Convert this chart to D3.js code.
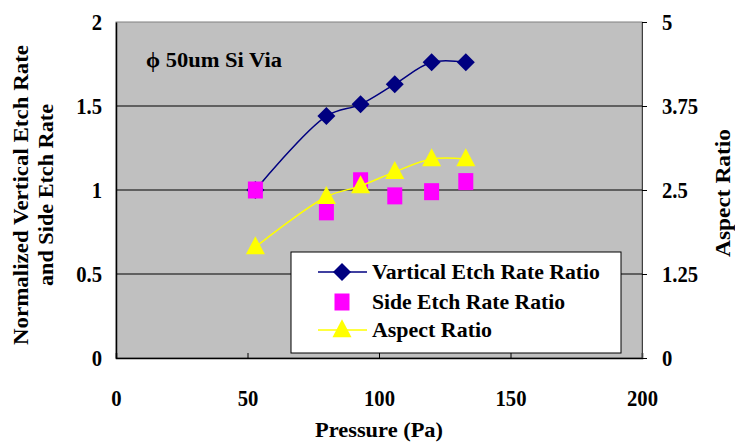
<!DOCTYPE html>
<html>
<head>
<meta charset="utf-8">
<script src="https://cdn.jsdelivr.net/npm/d3@7"></script>
<style>
  body { margin: 0; background: #fff; }
  svg { display: block; }
  svg text { font-family: "Liberation Serif", "Times New Roman", serif; font-weight: bold; fill: #000; }
</style>
</head>
<body>
<div id="chart"></div>
<script>
// data
const pressure = [53, 80, 93, 106, 120, 133];
const verticalRatio = [1.0, 1.44, 1.51, 1.63, 1.76, 1.76];
const sideRatio = [1.0, 0.87, 1.055, 0.965, 0.99, 1.05];
const aspectRatio = [1.65, 2.40, 2.56, 2.77, 2.96, 2.96];

const xTicks = [0, 50, 100, 150, 200];
const yLeftTicks = [0, 0.5, 1, 1.5, 2];
const yRightTicks = [0, 1.25, 2.5, 3.75, 5];
const legendLabels = ['Vartical Etch Rate Ratio', 'Side Etch Rate Ratio', 'Aspect Ratio'];

const width = 735, height = 443;
const margin = { top: 22, right: 93, bottom: 85, left: 116 };

const svg = d3.select('#chart').append('svg')
  .attr('width', width)
  .attr('height', height)
  .attr('font-family', '"Liberation Serif", serif');

const x = d3.scaleLinear().domain([0, 200]).range([margin.left, width - margin.right]);
const yL = d3.scaleLinear().domain([0, 2]).range([height - margin.bottom, margin.top]);
const yR = d3.scaleLinear().domain([0, 5]).range([height - margin.bottom, margin.top]);

// the reference type is squeezed sideways, so shrink text widths a bit
function condense(sel, k) {
  sel.each(function () {
    const w = this.getComputedTextLength();
    d3.select(this).attr('textLength', w * k).attr('lengthAdjust', 'spacingAndGlyphs');
  });
}

// plot background
svg.append('rect')
  .attr('x', x(0)).attr('y', yL(2))
  .attr('width', x(200) - x(0)).attr('height', yL(0) - yL(2))
  .attr('fill', '#c0c0c0')
  .attr('stroke', '#808080')
  .attr('stroke-width', 1);

// gridlines
svg.selectAll('.grid')
  .data(yLeftTicks.filter(d => d > 0 && d < 2))
  .join('line')
  .attr('x1', x(0)).attr('x2', x(200))
  .attr('y1', d => yL(d)).attr('y2', d => yL(d))
  .attr('stroke', '#000').attr('stroke-width', 1);

// axes
const axisBottom = svg.append('g')
  .attr('transform', `translate(0,${yL(0)})`)
  .call(d3.axisBottom(x).tickValues(xTicks).tickSize(-5).tickPadding(40).tickFormat(d3.format('d')));
const axisLeft = svg.append('g')
  .attr('transform', `translate(${x(0)},0)`)
  .call(d3.axisLeft(yL).tickValues(yLeftTicks).tickSize(0).tickPadding(14).tickFormat(d => d));
const axisRight = svg.append('g')
  .attr('transform', `translate(${x(200)},0)`)
  .call(d3.axisRight(yR).tickValues(yRightTicks).tickSize(5).tickPadding(15).tickFormat(d => d));

[axisBottom, axisLeft, axisRight].forEach(a => {
  a.attr('font-family', null).attr('font-size', null);
  a.selectAll('text')
    .attr('font-size', '24px')
    .attr('fill', '#000');
  a.selectAll('.domain').attr('stroke', '#000').attr('stroke-width', 1.5);
  a.selectAll('.tick line').attr('stroke', '#000');
  condense(a.selectAll('text'), 0.86);
});
axisRight.select('.domain').attr('stroke', '#404040').attr('stroke-width', 1);
axisBottom.selectAll('.tick text').attr('dy', '0.35em');

// axis titles
svg.append('text')
  .attr('x', (x(0) + x(200)) / 2)
  .attr('y', 437)
  .attr('text-anchor', 'middle')
  .attr('font-size', '22px')
  .attr('textLength', 128)
  .attr('lengthAdjust', 'spacingAndGlyphs')
  .text('Pressure (Pa)');

const leftTitle = svg.append('text')
  .attr('transform', `translate(0,195) rotate(-90)`)
  .attr('text-anchor', 'middle')
  .attr('font-size', '22px');
leftTitle.append('tspan').attr('x', 0).attr('y', 28)
  .attr('textLength', 300).attr('lengthAdjust', 'spacingAndGlyphs')
  .text('Normalized Vertical Etch Rate');
leftTitle.append('tspan').attr('x', 0).attr('y', 53)
  .attr('textLength', 182).attr('lengthAdjust', 'spacingAndGlyphs')
  .text('and Side Etch Rate');

svg.append('text')
  .attr('transform', `translate(730,193) rotate(-90)`)
  .attr('text-anchor', 'middle')
  .attr('font-size', '22px')
  .attr('textLength', 128)
  .attr('lengthAdjust', 'spacingAndGlyphs')
  .text('Aspect Ratio');

// annotation
svg.append('text')
  .attr('x', 146).attr('y', 67)
  .attr('font-size', '20px')
  .attr('textLength', 136)
  .attr('lengthAdjust', 'spacingAndGlyphs')
  .text('\u03D5 50um Si Via');

// series
const pts = (vals, scale) => pressure.map((p, i) => [x(p), scale(vals[i])]);
const curve = d3.line().curve(d3.curveCatmullRom.alpha(0.5));

const diamond = s => `M0,${-s}L${s},0L0,${s}L${-s},0Z`;
const triangle = (w, h) => `M0,${-h * 0.6}L${w / 2},${h * 0.4}L${-w / 2},${h * 0.4}Z`;

const vPts = pts(verticalRatio, yL);
const sPts = pts(sideRatio, yL);
const aPts = pts(aspectRatio, yR);

svg.append('path')
  .attr('d', curve(vPts))
  .attr('fill', 'none').attr('stroke', '#000080').attr('stroke-width', 1.5);
svg.selectAll('.vdot')
  .data(vPts).join('path')
  .attr('transform', d => `translate(${d[0]},${d[1]})`)
  .attr('d', diamond(9))
  .attr('fill', '#000080');

svg.selectAll('.sdot')
  .data(sPts).join('rect')
  .attr('x', d => d[0] - 7.5).attr('y', d => d[1] - 8.5)
  .attr('width', 15).attr('height', 17)
  .attr('fill', '#ff00ff');

svg.append('path')
  .attr('d', curve(aPts))
  .attr('fill', 'none').attr('stroke', '#ffff00').attr('stroke-width', 1.5);
svg.selectAll('.adot')
  .data(aPts).join('path')
  .attr('transform', d => `translate(${d[0]},${d[1]})`)
  .attr('d', triangle(19, 18))
  .attr('fill', '#ffff00');

// legend
const legend = svg.append('g');
legend.append('rect')
  .attr('x', 291).attr('y', 252).attr('width', 330).attr('height', 101)
  .attr('fill', '#fff').attr('stroke', '#000').attr('stroke-width', 1);

const rows = [272, 302, 330];
const lx1 = 318, lx2 = 367, lm = 342;
legend.append('line').attr('x1', lx1).attr('x2', lx2).attr('y1', rows[0]).attr('y2', rows[0])
  .attr('stroke', '#000080').attr('stroke-width', 1.5);
legend.append('path').attr('transform', `translate(${lm},${rows[0]})`).attr('d', diamond(9)).attr('fill', '#000080');
legend.append('rect').attr('x', lm - 7.5).attr('y', rows[1] - 8.5).attr('width', 15).attr('height', 17).attr('fill', '#ff00ff');
legend.append('line').attr('x1', lx1).attr('x2', lx2).attr('y1', rows[2]).attr('y2', rows[2])
  .attr('stroke', '#ffff00').attr('stroke-width', 1.5);
legend.append('path').attr('transform', `translate(${lm},${rows[2]})`).attr('d', triangle(19, 18)).attr('fill', '#ffff00');

const legendWidths = [228, 193, 120];
legend.selectAll('.ltext')
  .data(legendLabels).join('text')
  .attr('x', 372)
  .attr('y', (d, i) => rows[i])
  .attr('dy', '0.33em')
  .attr('font-size', '22px')
  .attr('textLength', (d, i) => legendWidths[i])
  .attr('lengthAdjust', 'spacingAndGlyphs')
  .text(d => d);
</script>
</body>
</html>
